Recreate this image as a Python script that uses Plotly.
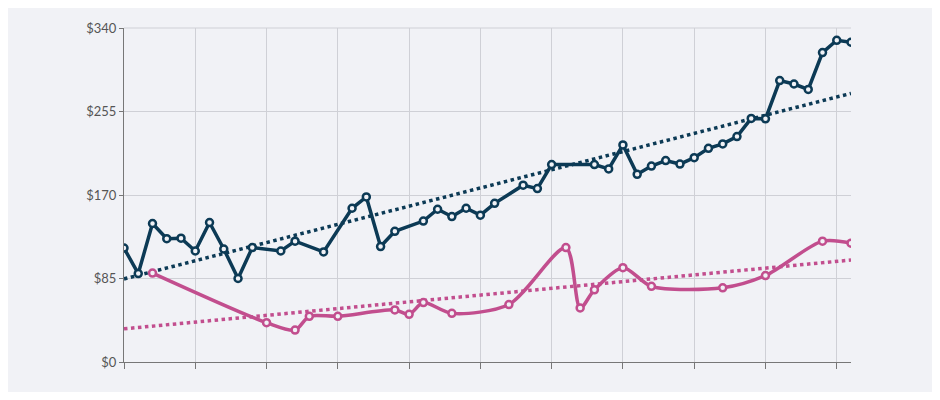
import numpy as np
import plotly.graph_objects as go

# series A (dark) - day index and value
dark_x = [0, 1, 2, 3, 4, 5, 6, 7, 8, 9, 11, 12, 14, 16, 17, 18, 19, 21, 22, 23, 24,
          25, 26, 28, 29, 30, 33, 34, 35, 36, 37, 38, 39, 40, 41, 42, 43, 44, 45,
          46, 47, 48, 49, 50, 51]
dark_y = [116, 90, 141, 125.5, 126, 113, 142, 115, 85, 116.5, 113, 123, 112, 156.5, 168,
          117.5, 133, 143.5, 155.5, 148, 156.5,
          149.5, 161.5, 180, 176.5, 201, 201, 196.5, 221, 191, 199.5, 205, 201.5, 208,
          217.5, 222, 229.5, 248, 247.5, 286.5, 283, 277.5, 315, 327.5, 325.5]

# series B (pink)
pink_x = [2, 10, 12, 13, 15, 19, 20, 21, 23, 27, 31, 32, 33, 35, 37, 42, 45, 49, 51]
pink_y = [90.5, 40, 32.5, 46.5, 46.5, 53, 48.5, 60.5, 49.5, 58.5, 116.5, 55, 73.5,
          96, 77, 75.5, 88, 123, 121]

y_ticks = [0, 85, 170, 255, 340]
y_labels = ["$0", "$85", "$170", "$255", "$340"]

DARK = "#0c3a55"
PINK = "#c24e8e"
BG = "#f1f2f6"

fig = go.Figure()

xs = np.array([0, 51])
for xv, yv, col, shape in [(dark_x, dark_y, DARK, "linear"), (pink_x, pink_y, PINK, "spline")]:
    k, b = np.polyfit(xv, yv, 1)
    fig.add_trace(go.Scatter(x=xs, y=k * xs + b, mode="lines",
                             line=dict(color=col, width=3.5, dash="dot"), hoverinfo="skip"))
    fig.add_trace(go.Scatter(x=xv, y=yv, mode="lines+markers",
                             line=dict(color=col, width=3.5, shape=shape, smoothing=0.8),
                             marker=dict(size=7, color=BG, line=dict(color=col, width=2.5))))

# page body adds an 8px margin, so the figure is a bit smaller
fig.update_layout(
    width=924, height=384, showlegend=False,
    paper_bgcolor=BG, plot_bgcolor=BG,
    margin=dict(l=116, r=81, t=18, b=30),
    font=dict(family="Lato, sans-serif", size=13, color="#555"),
)
fig.update_xaxes(range=[0, 51], dtick=5, tick0=0, showticklabels=False,
                 showgrid=True, gridcolor="#cfd0d6", gridwidth=1,
                 showline=True, linecolor="#777", ticks="outside", ticklen=6,
                 tickcolor="#777", zeroline=False, mirror=False)
fig.update_yaxes(range=[0, 340], tickvals=y_ticks, ticktext=y_labels,
                 showgrid=True, gridcolor="#cfd0d6", gridwidth=1,
                 showline=True, linecolor="#777", ticks="outside", ticklen=4,
                 tickcolor="#777", zeroline=False)
fig.add_shape(type="line", xref="paper", yref="paper", x0=0, x1=1, y0=1, y1=1,
              line=dict(color="#cfd0d6", width=1))

fig.write_html("out.html")
